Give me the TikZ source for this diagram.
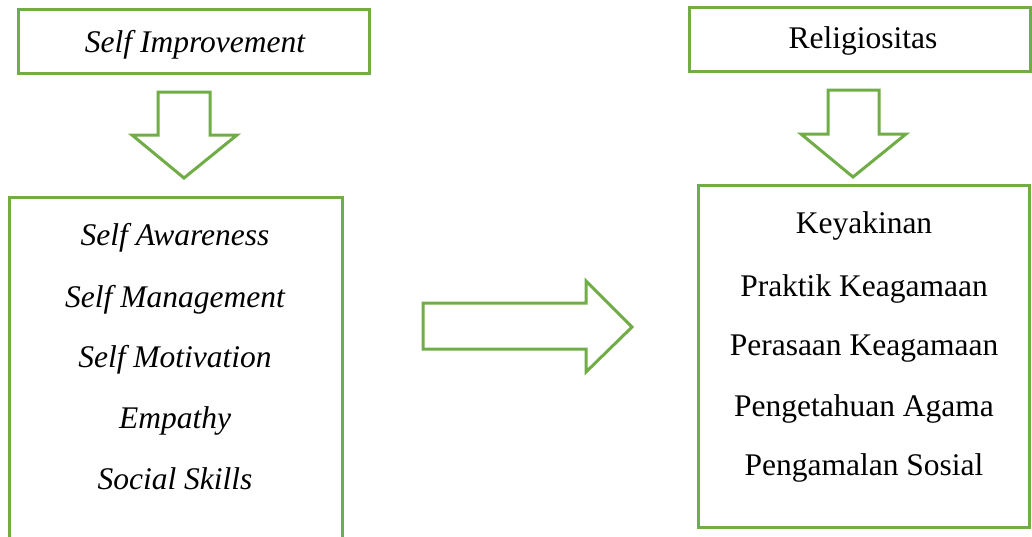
\documentclass[tikz,border=0pt]{standalone}
\usepackage{fontspec}
\setmainfont{Liberation Serif}
\definecolor{boxgreen}{HTML}{70AD47}

\begin{document}
\begin{tikzpicture}
      [%%%%%%%%%%%%%%%%%%%%%%%%%%%%%%
      x=1pt,y=-1pt,
      box/.style={rectangle,draw=boxgreen,line width=3pt,inner sep=0pt},
      txt/.style={anchor=base,font=\fontsize{31.5}{36}\selectfont},
      itxt/.style={anchor=base,font=\fontsize{31.5}{36}\selectfont\itshape},
      blockarrow/.style={draw=boxgreen,line width=3pt,line join=miter},
      ]%%%%%%%%%%%%%%%%%%%%%%%%%%%%%%
      \useasboundingbox (0,0) rectangle (1032,536);

      % left column
      \node[box,minimum width=351pt,minimum height=64pt] (selfimp) at (193.5,41){};
      \node[itxt] (selfimptxt) at (195,52){Self Improvement};
      \draw[blockarrow] (158,92) -- (210,92) -- (210,135) -- (237,135) -- (184,178)
            -- (132,135) -- (158,135) -- cycle;
      \node[box,minimum width=333pt,minimum height=373pt] (aspek) at (175.5,383.5){};
      \node[itxt] (awareness)  at (175,245){Self Awareness};
      \node[itxt] (management) at (175,307){Self Management};
      \node[itxt] (motivation) at (175,367){Self Motivation};
      \node[itxt] (empathy)    at (175,428){Empathy};
      \node[itxt] (social)     at (175,489){Social Skills};

      % middle arrow
      \draw[blockarrow] (423,303) -- (586,303) -- (586,281) -- (632,327) -- (586,372)
            -- (586,349) -- (423,349) -- cycle;

      % right column
      \node[box,minimum width=341pt,minimum height=64pt] (relig) at (859.5,39){};
      \node[txt] (religtxt) at (863,48){Religiositas};
      \draw[blockarrow] (828,90) -- (879,90) -- (879,134) -- (906,134) -- (853,177)
            -- (801,134) -- (828,134) -- cycle;
      \node[box,minimum width=331pt,minimum height=342pt] (dimensi) at (863.5,356){};
      \node[txt] (keyakinan)   at (864,233){Keyakinan};
      \node[txt] (praktik)     at (864,296){Praktik Keagamaan};
      \node[txt] (perasaan)    at (864,355){Perasaan Keagamaan};
      \node[txt] (pengetahuan) at (864,416){Pengetahuan Agama};
      \node[txt] (pengamalan)  at (864,475){Pengamalan Sosial};
    \end{tikzpicture}
\end{document}
